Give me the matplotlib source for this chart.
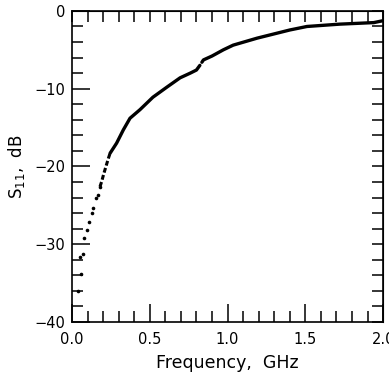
import matplotlib
matplotlib.use("Agg")
import matplotlib.pyplot as plt
import numpy as np
from matplotlib.ticker import MultipleLocator

dot_freq = [0.040, 0.050, 0.058, 0.069, 0.079, 0.094, 0.109, 0.127, 0.137, 0.154, 0.165, 0.180]
dot_s11 = [-36.0, -31.7, -33.8, -31.3, -29.2, -28.2, -27.2, -26.0, -25.4, -24.1, -23.7, -22.6]

dash_freq = [0.180, 0.190, 0.205, 0.220, 0.235, 0.245]
dash_s11 = [-22.6, -22.0, -20.9, -19.9, -18.9, -18.3]

solid1_freq = [0.245, 0.287, 0.330, 0.373, 0.437, 0.520, 0.610, 0.695, 0.760, 0.800, 0.822]
solid1_s11 = [-18.3, -17.0, -15.3, -13.8, -12.7, -11.1, -9.8, -8.6, -8.0, -7.6, -7.0]

solid2_freq = [0.835, 0.845, 0.900, 0.973, 1.036, 1.190, 1.400, 1.510, 1.720, 1.940, 2.000]
solid2_s11 = [-6.6, -6.3, -5.8, -5.0, -4.4, -3.5, -2.45, -2.0, -1.7, -1.5, -1.25]

x_ticks = [0, 0.5, 1.0, 1.5, 2.0]
x_labels = ['0.0', '0.5', '1.0', '1.5', '2.0']
y_ticks = [-40, -30, -20, -10, 0]
y_labels = ['\u221240', '\u221230', '\u221220', '\u221210', '0']

plt.rcParams['font.family'] = ['DejaVu Sans']

fig = plt.figure(figsize=(3.89, 3.77), dpi=100)
ax = fig.add_axes([0.185, 0.146, 0.80, 0.825])

ax.plot(dot_freq, dot_s11, 'o', color='black', markersize=2.6, markeredgewidth=0)
ax.plot(dash_freq, dash_s11, color='black', linewidth=2.2, linestyle=(0, (1.6, 0.8)))
ax.plot(solid1_freq, solid1_s11, color='black', linewidth=2.4, solid_capstyle='round')
ax.plot(solid2_freq, solid2_s11, color='black', linewidth=2.4, solid_capstyle='round')

ax.set_xlim(0, 2.0)
ax.set_ylim(-40, 0)
ax.xaxis.set_minor_locator(MultipleLocator(0.1))
ax.yaxis.set_minor_locator(MultipleLocator(2))
ax.set_xticks(x_ticks)
ax.set_xticklabels(x_labels)
ax.set_yticks(y_ticks)
ax.set_yticklabels(y_labels)

ax.tick_params(which='both', direction='in', width=1.1, labelsize=10.5, colors='black')
ax.tick_params(which='major', length=13)
ax.tick_params(which='minor', length=8)
ax.tick_params(axis='x', which='major', pad=7)
ax.tick_params(axis='y', which='major', pad=5)
for s in ax.spines.values():
    s.set_linewidth(1.2)

# top and right edges: short ticks only, all the same length
top = ax.secondary_xaxis('top')
top.set_xticks(np.arange(0, 2.01, 0.1))
top.tick_params(direction='in', length=8, width=1.1, labeltop=False)
right = ax.secondary_yaxis('right')
right.set_yticks(np.arange(-40, 0.1, 2))
right.tick_params(direction='in', length=8, width=1.1, labelright=False)

ax.set_xlabel('Frequency,  GHz', fontsize=12.5, labelpad=5)
ax.set_ylabel('S$_{11}$,  dB', fontsize=12, labelpad=5)

fig.savefig('out.png', dpi=100)
